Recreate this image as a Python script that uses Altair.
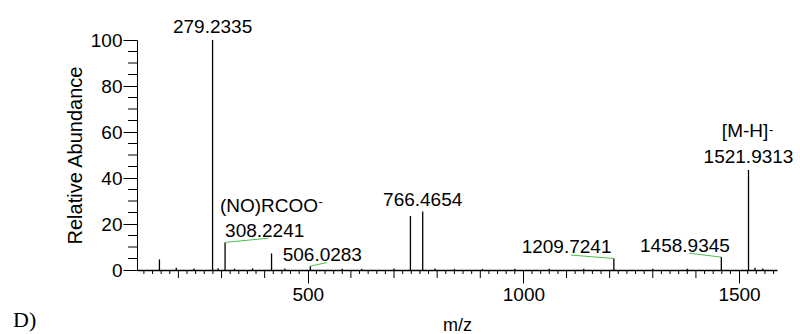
import altair as alt
import pandas as pd

# ---- spectrum data: centroid peaks (m/z, relative abundance %) ----
peak_mz = [156.0, 195.0, 236.0, 279.2335, 292.0, 308.2241, 330.0, 372.0, 416.0,
           447.0, 506.0283, 580.0, 625.0, 700.0, 738.0, 766.4654, 795.0, 840.0,
           905.0, 980.0, 1060.0, 1140.0, 1209.7241, 1300.0, 1380.0, 1458.9345,
           1521.9313, 1537.0, 1555.0]
peak_ab = [4.6, 1.0, 0.6, 100.0, 0.8, 12.0, 0.6, 0.7, 7.2,
           0.6, 1.7, 0.5, 0.5, 0.6, 23.5, 25.4, 0.6, 0.5,
           0.5, 0.5, 0.5, 0.5, 5.0, 0.5, 0.5, 5.6,
           43.5, 1.0, 0.6]

# ---- labelled peaks: text and the peak each one belongs to ----
label_text = ["279.2335", "308.2241", "(NO)RCOO", "766.4654", "506.0283",
              "1209.7241", "1458.9345", "1521.9313", "[M-H]"]
label_mz = [279.2335, 308.2241, 308.2241, 766.4654, 506.0283,
            1209.7241, 1458.9345, 1521.9313, 1521.9313]
label_ab = [100.0, 12.0, 12.0, 25.4, 1.7, 5.0, 5.6, 43.5, 43.5]

# superscript charge signs
sup_mz = [308.2241, 1521.9313]
sup_ab = [12.0, 43.5]

# leader lines from peak top to the label underline (data units)
lead_mz = [308.2241, 506.0283, 1209.7241, 1458.9345]
lead_ab = [12.0, 1.7, 5.0, 5.6]
lead_mz_end = [408.4, 543.9, 1109.6, 1384.6]
lead_ab_end = [13.8, 3.2, 6.5, 7.3]

x_ticks = [500, 1000, 1500]
y_ticks = [0, 20, 40, 60, 80, 100]

FONT = "Liberation Sans"
W, H = 640, 230

xs = alt.Scale(domain=[104, 1588], nice=False, zero=False)
ys = alt.Scale(domain=[0, 100], nice=False)

X_AX = alt.Axis(values=x_ticks, format="d", tickSize=13, tickColor="black", tickWidth=1,
                domainColor="black", domainWidth=1.5, grid=False,
                labelFont=FONT, labelFontSize=19, labelColor="black",
                labelPadding=2, labelFlush=False, labelOverlap=False,
                title="m/z", titleFont=FONT, titleFontSize=18,
                titleFontWeight="normal", titleColor="black",
                titleY=60, titleBaseline="alphabetic")
Y_AX = alt.Axis(values=y_ticks, format="d", tickSize=14, tickColor="black", tickWidth=1,
                domainColor="black", domainWidth=1, grid=False,
                labelFont=FONT, labelFontSize=19, labelColor="black",
                labelPadding=1, labelFlush=False, labelOverlap=False,
                title="Relative Abundance", titleFont=FONT, titleFontSize=20,
                titleFontWeight="normal", titleColor="black",
                titleX=-56, titleY=H / 2, titleAngle=270,
                titleAlign="center", titleBaseline="alphabetic")


def X(field="mz"):
    return alt.X(f"{field}:Q", scale=xs, axis=X_AX)


def Y(field="ab"):
    return alt.Y(f"{field}:Q", scale=ys, axis=Y_AX)


peaks = pd.DataFrame({"mz": peak_mz, "ab": peak_ab, "base": 0.0})

# minor tick marks along the axes
mz_minor = [t for t in range(120, 1588, 20) if t % 100 != 0]
mz_mid = [t for t in range(200, 1588, 100) if t % 500 != 0]
ab_minor = [t for t in range(5, 100, 5) if t % 20 != 0]

layers = []
layers.append(alt.Chart(pd.DataFrame({"mz": mz_minor})).mark_rule(color="black", strokeWidth=1)
              .encode(x=X(), y=alt.value(H), y2=alt.value(H + 4)))
layers.append(alt.Chart(pd.DataFrame({"mz": mz_mid})).mark_rule(color="black", strokeWidth=1)
              .encode(x=X(), y=alt.value(H), y2=alt.value(H + 8)))
layers.append(alt.Chart(pd.DataFrame({"ab": ab_minor})).mark_rule(color="black", strokeWidth=1)
              .encode(y=Y(), x=alt.value(-9), x2=alt.value(0)))

# spectrum sticks
layers.append(alt.Chart(peaks).mark_rule(color="black", strokeWidth=1.3)
              .encode(x=X(), y=Y(), y2=alt.Y2("base:Q")))

# leader lines
lead = pd.DataFrame({"mz": lead_mz, "ab": lead_ab, "mz2": lead_mz_end, "ab2": lead_ab_end})
layers.append(alt.Chart(lead).mark_rule(color="#4cbf4c", strokeWidth=1)
              .encode(x=X(), y=Y(), x2=alt.X2("mz2:Q"), y2=alt.Y2("ab2:Q")))

# peak labels: (align, dx, dy) in pixels from the peak top
label_style = [("center", 0, -7), ("left", 0, -5), ("right", 93, -30.6),
               ("center", 0, -5.6), ("left", -27.7, -5.4), ("left", -92.2, -5.2),
               ("left", -81.3, -4.8), ("center", 0, -6.7), ("right", 19.8, -33)]
for txt, mz, ab, (al, dx, dy) in zip(label_text, label_mz, label_ab, label_style):
    df = pd.DataFrame({"mz": [mz], "ab": [ab], "t": [txt]})
    layers.append(alt.Chart(df).mark_text(font=FONT, fontSize=19, color="black",
                                          align=al, baseline="alphabetic", dx=dx, dy=dy)
                  .encode(x=X(), y=Y(), text="t:N"))

sup_style = [(93.5, -36), (20.5, -36)]
for mz, ab, (dx, dy) in zip(sup_mz, sup_ab, sup_style):
    df = pd.DataFrame({"mz": [mz], "ab": [ab], "t": ["-"]})
    layers.append(alt.Chart(df).mark_text(font=FONT, fontSize=13, color="black",
                                          align="left", baseline="alphabetic", dx=dx, dy=dy)
                  .encode(x=X(), y=Y(), text="t:N"))

# panel letter
layers.append(alt.Chart(pd.DataFrame({"t": ["D)"]})).mark_text(
    font="Liberation Serif", fontSize=22, color="black", align="left", baseline="alphabetic")
    .encode(x=alt.value(-124), y=alt.value(287), text="t:N"))

chart = (alt.layer(*layers)
         .properties(width=W, height=H,
                     padding={"left": 137, "top": 40, "right": 23, "bottom": 64},
                     autosize=alt.AutoSizeParams(type="none"),
                     background="white")
         .configure_view(stroke=None))

chart.save("out.html", embed_options={"renderer": "svg", "actions": False})
